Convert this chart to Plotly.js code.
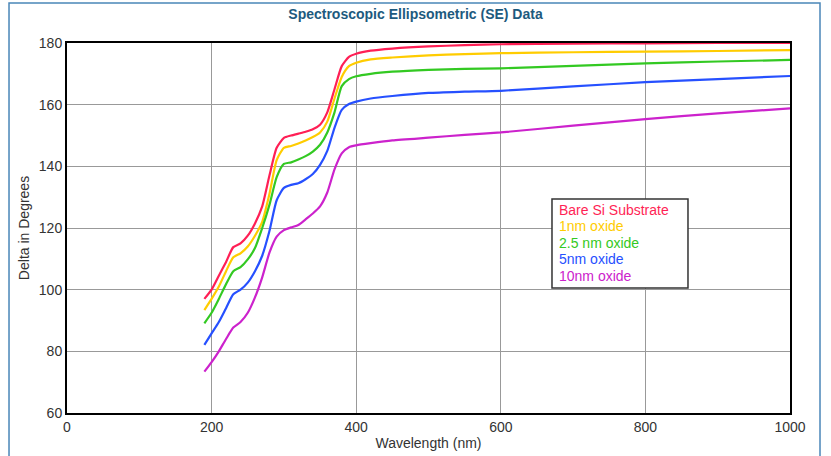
<!DOCTYPE html>
<html>
<head>
<meta charset="utf-8">
<script src="https://cdn.plot.ly/plotly-3.0.1.min.js"></script>
<style>html,body{margin:0;padding:0;background:#fff;}#chart{width:831px;height:456px;}</style>
</head>
<body>
<div id="chart"></div>
<script>
const wavelength = [190,200,210,220,230,240,250,260,270,280,290,300,310,320,330,340,350,360,370,380,390,400,420,450,500,550,600,700,800,900,1000];
const bareSi   = [97,100,104.5,109,113.8,115,117.5,121.5,127,137,146,149.2,150,150.6,151.2,152,153.5,157.5,165,172.5,175.5,176.5,177.5,178.2,178.9,179.3,179.6,179.8,179.9,180,180];
const oxide1   = [93.4,97,101,106,110.5,111.8,114,117.5,122,131,142,146,146.6,147.4,148.4,149.5,151,154.5,162,169,172.5,173.6,174.7,175.3,176,176.4,176.7,177,177.2,177.4,177.7];
const oxide2_5 = [89.1,92.5,97,101.8,106,107.3,109.8,113.5,120,127.5,136.5,140.8,141.3,142.2,143.3,144.8,147,151,157.5,166,168.3,169.2,170,170.7,171.3,171.6,171.8,172.6,173.4,174,174.5];
const oxide5   = [82.1,85.8,89.5,94,98.5,100,102.3,106,111,119,129,133,134,134.5,135.8,137.5,140.5,145,152.5,158.3,160.2,161,162,162.8,163.8,164.2,164.5,165.9,167.3,168.3,169.3];
const oxide10  = [73.4,76.5,80,84,87.7,89.5,92.5,97.5,104,112,117.2,119.3,120.2,121,122.8,124.7,127,131.5,139,144.2,146.2,146.8,147.5,148.4,149.3,150.2,151,153.2,155.3,157.2,158.8];
const seriesNames = ["Bare Si Substrate","1nm oxide","2.5 nm oxide","5nm oxide","10nm oxide"];
const seriesColors = ["#ff1f55","#ffcc00","#33c922","#2650ff","#cc22cc"];
const seriesData = [bareSi, oxide1, oxide2_5, oxide5, oxide10];

const traces = seriesData.map((ys,i)=>({
  x: wavelength, y: ys, type:'scatter', mode:'lines', name: seriesNames[i],
  line:{color: seriesColors[i], width:2.2, shape:'spline', smoothing:0.6},
  showlegend:false, hoverinfo:'skip'
}));

const legendY = [0.5486, 0.5041, 0.4595, 0.4149, 0.3703];
const annotations = seriesNames.map((n,i)=>({
  xref:'paper', yref:'paper', x:0.679, y:legendY[i], xanchor:'left', yanchor:'middle',
  borderpad:0,
  text:n, showarrow:false, font:{size:14, color:seriesColors[i], family:'Arial, Liberation Sans, sans-serif'}
}));

const layout = {
  width:831, height:456,
  margin:{l:67, r:41, t:43, b:43},
  paper_bgcolor:'#fff', plot_bgcolor:'#fff',
  font:{family:'Arial, Liberation Sans, sans-serif', size:14, color:'#333'},
  title:{text:'<b>Spectroscopic Ellipsometric (SE) Data</b>', font:{size:14, color:'#1d5a7e', family:'Arial, Liberation Sans, sans-serif'}, x:0.5, xanchor:'center', y:0.968, yanchor:'middle'},
  xaxis:{range:[0,1000], tickvals:[0,200,400,600,800,1000], showgrid:true, gridcolor:'#999', gridwidth:1,
    showline:true, mirror:true, linecolor:'#000', linewidth:2, zeroline:false, ticks:'', ticklen:0,
    tickfont:{size:14, color:'#333'},
    title:{text:'Wavelength (nm)', font:{size:14, color:'#333'}, standoff:4}},
  yaxis:{range:[60,180], tickvals:[60,80,100,120,140,160,180], showgrid:true, gridcolor:'#999', gridwidth:1,
    showline:true, mirror:true, linecolor:'#000', linewidth:2, zeroline:false, ticks:'', ticklen:0,
    tickfont:{size:14, color:'#333'},
    title:{text:'Delta in Degrees', font:{size:14, color:'#333'}, standoff:6}},
  annotations: annotations,
  shapes:[{
    type:'rect', xref:'paper', yref:'paper', x0:-0.0802, x1:1.0415, y0:-0.2, y1:1.108,
    line:{color:'#4a86b8', width:1.5}, fillcolor:'rgba(0,0,0,0)', layer:'below'
  },{
    type:'rect', xref:'paper', yref:'paper', x0:0.6708, x1:0.8589, y0:0.3378, y1:0.5784,
    line:{color:'#333', width:1.5}, fillcolor:'#fff', layer:'above'
  }]
};
Plotly.newPlot('chart', traces, layout, {displayModeBar:false, staticPlot:true});
</script>
</body>
</html>
